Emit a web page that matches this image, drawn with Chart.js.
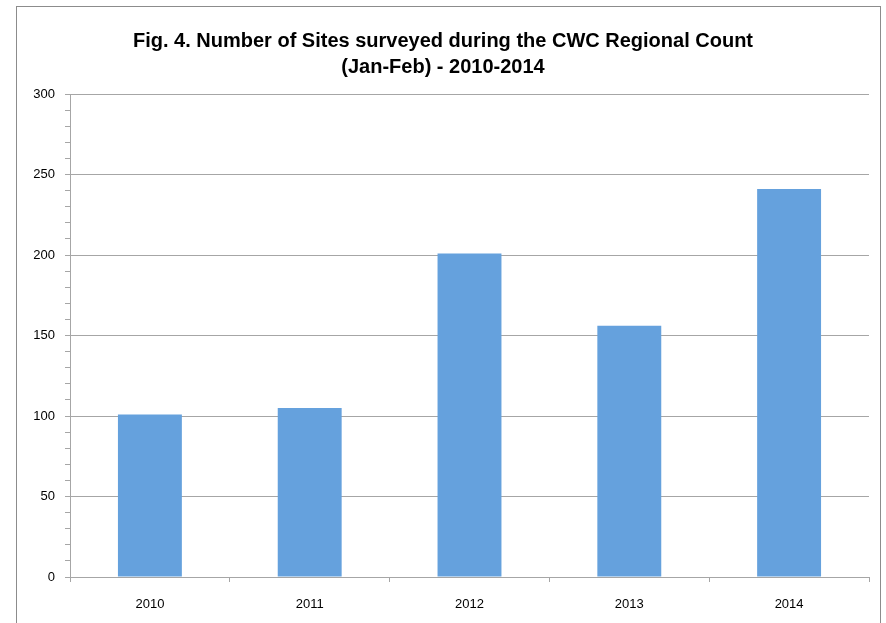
<!DOCTYPE html>
<html>
<head>
<meta charset="utf-8">
<style>
  html, body { margin: 0; padding: 0; background: #fff; }
  #wrap { width: 886px; height: 623px; }
</style>
<script src="https://cdn.jsdelivr.net/npm/chart.js@4"></script>
</head>
<body>
<div id="wrap"><canvas id="chart" width="886" height="623"></canvas></div>
<script>
const years = ['2010', '2011', '2012', '2013', '2014'];
const sites = [101, 105, 201, 156, 241];
const titleLines = ['Fig. 4. Number of Sites surveyed during the CWC Regional Count', '(Jan-Feb) - 2010-2014'];

const gray = '#a6a6a6';

// outer frame of the chart, like the Excel chart border
const framePlugin = {
  id: 'frame',
  beforeDraw(chart) {
    const ctx = chart.ctx;
    ctx.save();
    ctx.strokeStyle = '#8c8c8c';
    ctx.lineWidth = 1;
    ctx.strokeRect(16.5, 6.5, 864, 700);
    ctx.restore();
  }
};

new Chart(document.getElementById('chart'), {
  type: 'bar',
  data: {
    labels: years,
    datasets: [{
      data: sites,
      backgroundColor: '#65a1dd',
      barPercentage: 0.4,
      categoryPercentage: 1.0
    }]
  },
  options: {
    responsive: false,
    animation: false,
    layout: { padding: { left: 17, right: 17, top: 0, bottom: 0 } },
    plugins: {
      legend: { display: false },
      tooltip: { enabled: false },
      title: {
        display: true,
        text: titleLines,
        color: '#000',
        font: { family: 'Liberation Sans', size: 20, weight: 'bold', lineHeight: 1.3 },
        padding: { top: 28, bottom: 14 }
      }
    },
    scales: {
      x: {
        grid: {
          offset: true,
          drawOnChartArea: false,
          tickLength: 5,
          tickColor: gray
        },
        border: { color: gray },
        ticks: {
          color: '#000',
          padding: 15,
          font: { family: 'Liberation Sans', size: 13 }
        },
        afterFit(scale) { scale.height = 46; }
      },
      y: {
        min: 0,
        max: 300,
        grid: {
          color: c => (c.tick && c.tick.value % 50 === 0 && c.tick.value !== 0) ? gray : 'rgba(0,0,0,0)',
          tickColor: gray,
          tickLength: 5
        },
        border: { color: gray },
        ticks: {
          stepSize: 10,
          autoSkip: false,
          color: '#000',
          padding: 10,
          font: { family: 'Liberation Sans', size: 13 },
          callback: v => (v % 50 === 0 ? v : '')
        },
        afterFit(scale) { scale.width = 53; }
      }
    }
  },
  plugins: [framePlugin]
});
</script>
</body>
</html>
